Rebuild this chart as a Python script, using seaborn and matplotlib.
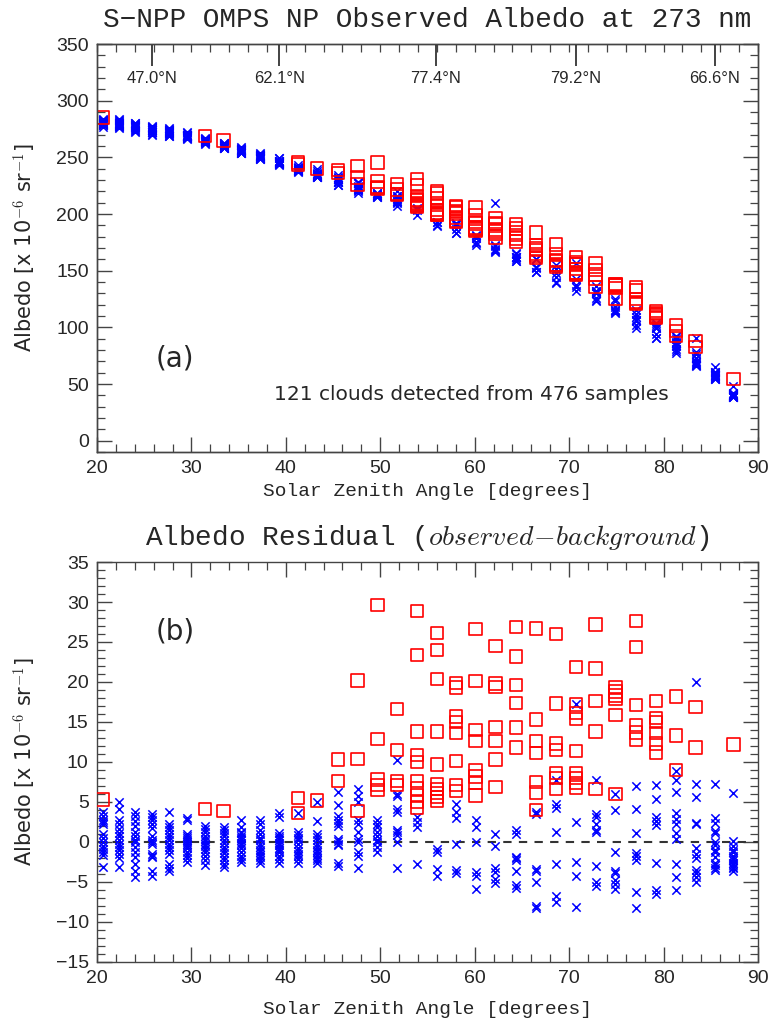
import matplotlib
matplotlib.use("Agg")
import matplotlib.pyplot as plt
import seaborn as sns
import pandas as pd
from matplotlib.ticker import MultipleLocator

sns.set_style("ticks")
plt.rcParams["font.family"] = ["DejaVu Sans"]
plt.rcParams["mathtext.fontset"] = "cm"
plt.rcParams["axes.linewidth"] = 1.0

# Solar zenith angle of each scan column (14 samples per column)
sza = [20.6, 22.3, 24.0, 25.8, 27.65, 29.5, 31.45, 33.4, 35.3, 37.3, 39.3,
       41.3, 43.3, 45.5, 47.6, 49.7, 51.8, 53.9, 56.0, 58.0, 60.1, 62.2,
       64.4, 66.5, 68.6, 70.7, 72.8, 74.9, 77.1, 79.2, 81.3, 83.4, 85.4, 87.4]

# background albedo per column [x 1e-6 sr-1]
background = [280, 279, 277, 274, 272.5, 269, 265, 261, 256, 251, 246,
              240, 235, 228.5, 222, 216, 210, 202, 194, 187, 179, 172,
              164, 157, 147, 140, 129, 119, 108, 97, 83.5, 71, 58, 42]

# residuals (observed - background) of samples flagged as cloud
cloud_resid = [
    [5.3], [], [], [], [], [], [4.1], [3.9], [], [], [],
    [5.5, 3.6], [5.2], [10.3, 7.6], [20.2, 10.4, 3.9],
    [29.6, 12.9, 7.8, 7.1, 6.5],
    [16.6, 11.5, 7.6, 7.1],
    [28.9, 23.4, 13.8, 10.9, 10.0, 7.6, 6.7, 5.8, 5.0, 4.3],
    [26.1, 24.0, 20.4, 13.8, 9.7, 7.2, 6.6, 6.1, 5.6, 5.1],
    [19.9, 19.3, 15.7, 15.0, 13.6, 10.1, 7.1, 6.4],
    [26.6, 20.1, 14.0, 12.6, 9.0, 8.2, 7.4, 5.8],
    [24.5, 19.8, 19.4, 14.4, 12.6, 10.3, 6.9],
    [26.9, 23.2, 19.6, 17.4, 14.3, 11.8],
    [26.7, 15.3, 12.6, 11.1, 7.5, 6.2, 4.0],
    [26.0, 17.3, 12.3, 11.5, 8.6, 8.0, 6.6],
    [21.9, 17.2, 16.1, 15.4, 11.4, 8.6, 8.0, 7.4, 6.8],
    [27.2, 21.7, 17.6, 13.8, 6.6],
    [19.3, 18.8, 18.3, 17.9, 15.9, 6.0],
    [27.6, 24.4, 17.1, 14.6, 13.7, 12.8],
    [17.6, 15.5, 15.0, 13.6, 12.3, 11.2],
    [18.2, 13.3, 9.0],
    [16.9, 11.8],
    [],
    [12.2],
]

# residuals of the clear samples
clear_resid = [
    [3.7, 3.3, 2.8, 2.5, 2.2, 1.0, 0.5, 0.0, -0.5, -0.9, -1.2, -1.6, -3.1],
    [5.0, 4.1, 2.8, 2.3, 1.6, 1.1, 0.7, 0.3, -0.2, -0.6, -1.0, -1.5, -2.0, -3.1],
    [3.7, 3.2, 2.6, 2.0, 1.3, 0.7, 0.3, 0.0, -0.6, -1.3, -1.9, -2.8, -3.6, -4.4],
    [3.5, 3.1, 2.8, 2.2, 1.7, 0.7, 0.3, 0.0, -0.2, -1.5, -1.7, -1.9, -3.6, -4.2],
    [3.8, 2.3, 1.9, 1.5, 1.0, 0.6, 0.2, -0.3, -0.6, -1.0, -1.5, -2.8, -3.2, -3.6],
    [3.0, 2.7, 1.0, 0.8, 0.5, 0.3, 0.0, -0.2, -0.5, -0.8, -1.2, -1.6, -2.0, -2.5],
    [2.0, 1.6, 1.2, 0.8, 0.4, 0.1, -0.2, -0.5, -0.9, -1.3, -1.8, -2.3, -2.9],
    [1.9, 1.5, 1.1, 0.7, 0.3, -0.1, -0.6, -1.0, -1.4, -1.9, -2.3, -2.7, -3.1],
    [2.8, 1.9, 1.3, 1.1, 0.8, 0.5, 0.2, -0.1, -0.4, -0.8, -1.3, -1.7, -2.1, -2.5],
    [2.7, 2.2, 1.5, 1.0, 0.5, 0.2, -0.2, -0.6, -1.0, -1.3, -1.6, -1.9, -2.3, -2.6],
    [3.6, 3.1, 1.1, 0.8, 0.5, 0.2, -0.1, -0.4, -0.7, -1.0, -1.3, -1.7, -2.1, -2.6],
    [3.6, 1.2, 0.9, 0.5, 0.2, -0.3, -0.7, -1.1, -1.5, -1.8, -2.1, -2.6],
    [5.0, 2.6, 1.0, 0.6, 0.2, -0.2, -0.6, -1.0, -1.3, -1.6, -2.0, -2.3, -2.6],
    [6.2, 4.6, 3.3, 2.8, 2.4, 2.0, 0.4, 0.1, -0.2, -0.4, -2.6, -3.0],
    [6.6, 5.7, 5.0, 2.8, 2.2, 1.3, 0.4, 0.0, -1.2, -1.8, -3.3],
    [2.8, 2.2, 1.9, 1.2, 0.7, 0.3, 0.0, -0.6, -1.2],
    [10.2, 6.0, 5.7, 4.1, 3.7, 1.5, 1.2, 0.9, 0.0, -3.2],
    [3.1, 2.5, 1.9, -2.8],
    [-0.9, -1.2, -3.4, -4.3],
    [4.7, 3.8, 3.0, -0.3, -3.5, -3.9],
    [2.8, 1.9, 0.0, -3.8, -4.3, -5.9],
    [38.0, 1.0, -0.5, -3.2, -3.8, -4.6, -5.1],
    [1.5, 1.0, -1.9, -2.0, -2.3, -3.6, -5.4, -5.8],
    [3.7, 3.5, -3.4, -3.6, -5.0, -8.0, -8.3],
    [7.7, 4.8, 4.2, 1.2, -2.8, -6.8, -7.5],
    [17.2, 2.5, -2.5, -4.2, -8.1],
    [7.8, 3.5, 3.1, 2.2, 1.5, 1.2, -3.0, -5.0, -5.5],
    [6.0, 4.0, -1.2, -3.6, -3.9, -4.8, -5.3, -5.9],
    [7.0, 4.1, 1.1, -1.4, -1.8, -2.3, -6.2, -8.3],
    [7.1, 5.4, 3.1, 2.6, 2.1, -2.6, -6.0, -6.5],
    [8.9, 7.8, 6.2, 3.6, 2.9, 2.3, 1.1, 0.4, -2.8, -4.4, -6.0],
    [20.0, 7.2, 5.6, 2.4, 2.2, -0.8, -1.5, -2.0, -3.5, -3.9, -4.4, -5.0],
    [7.3, 3.0, 2.4, 1.4, 1.1, 0.0, -0.4, -1.0, -1.3, -1.9, -2.6, -2.9, -3.2, -3.5],
    [6.1, 0.1, -0.5, -1.0, -1.3, -1.7, -2.0, -2.3, -2.6, -2.9, -3.1, -3.3, -3.6],
]

# latitude labels on the top axis of panel (a)
lat_sza = [25.8, 39.3, 55.9, 70.7, 85.4]
lat_labels = ["47.0°N", "62.1°N", "77.4°N", "79.2°N", "66.6°N"]

rows = []
for x, bg, cl, cr in zip(sza, background, cloud_resid, clear_resid):
    for r in cl:
        rows.append({"sza": x, "resid": r, "albedo": bg + r, "cloud": True})
    for r in cr:
        rows.append({"sza": x, "resid": r, "albedo": bg + r, "cloud": False})
df = pd.DataFrame(rows)
clear = df[~df["cloud"]]
cloudy = df[df["cloud"]]

mono = "Liberation Mono"
tick_font = "Liberation Sans"

fig = plt.figure(figsize=(7.71, 10.25), dpi=100)
ax1 = fig.add_axes([0.1258, 0.559, 0.8573, 0.398])
ax2 = fig.add_axes([0.1258, 0.0615, 0.8573, 0.3902])


def style_axis(ax, ymaj, ymin, top=True):
    ax.set_xlim(20, 90)
    ax.xaxis.set_major_locator(MultipleLocator(10))
    ax.xaxis.set_minor_locator(MultipleLocator(2))
    ax.yaxis.set_major_locator(MultipleLocator(ymaj))
    ax.yaxis.set_minor_locator(MultipleLocator(ymin))
    ax.tick_params(which="both", direction="in", left=True, right=True,
                   bottom=True, top=top, color="#444444")
    ax.tick_params(which="major", length=11, width=1.0, labelsize=14, pad=6)
    ax.tick_params(which="minor", length=5.5, width=0.9)
    for lab in ax.get_xticklabels() + ax.get_yticklabels():
        lab.set_fontfamily(tick_font)
    for s in ax.spines.values():
        s.set_color("#444444")


# ---- panel (a): observed albedo
sns.scatterplot(data=clear, x="sza", y="albedo", ax=ax1, marker="x",
                color="blue", s=36, linewidth=1.1, zorder=3)
sns.scatterplot(data=cloudy, x="sza", y="albedo", ax=ax1, marker="s",
                facecolor="none", edgecolor="red", s=80, linewidth=1.2, zorder=4)
ax1.set_ylim(-10, 350)
style_axis(ax1, 50, 10, top=False)
ax1.set_xlabel("Solar Zenith Angle [degrees]", fontfamily=mono, fontsize=14)
ax1.xaxis.set_label_coords(0.5, -0.075)
ax1.set_ylabel(r"Albedo [x 10$^{-6}$ sr$^{-1}$]", fontsize=15)
ax1.yaxis.set_label_coords(-0.088, 0.5)
ax1.text(0.5, 1.058, "S\u2212NPP OMPS NP Observed Albedo at 273 nm",
         transform=ax1.transAxes, ha="center", va="center",
         fontfamily=mono, fontsize=20)
ax1.text(0.118, 0.23, "(a)", transform=ax1.transAxes, ha="center",
         va="center", fontsize=20)
ax1.text(0.566, 0.14, "121 clouds detected from 476 samples",
         transform=ax1.transAxes, ha="center", va="center", fontsize=14.5)

lat_ax = ax1.twiny()
lat_ax.set_xlim(20, 90)
lat_ax.set_xticks(lat_sza)
lat_ax.set_xticklabels(lat_labels, fontfamily=tick_font, fontsize=12)
lat_ax.xaxis.set_minor_locator(MultipleLocator(2))
lat_ax.tick_params(which="major", direction="in", length=16, width=1.2,
                   pad=-30, color="#222222")
lat_ax.tick_params(which="minor", direction="in", length=5.5, width=0.9,
                   color="#444444")
for s in lat_ax.spines.values():
    s.set_color("#444444")

# ---- panel (b): residual
ax2.axhline(0, color="#333333", lw=1.5, ls=(0, (4, 3.5)), zorder=2)
sns.scatterplot(data=clear, x="sza", y="resid", ax=ax2, marker="x",
                color="blue", s=36, linewidth=1.1, zorder=3)
sns.scatterplot(data=cloudy, x="sza", y="resid", ax=ax2, marker="s",
                facecolor="none", edgecolor="red", s=80, linewidth=1.2, zorder=4)
ax2.set_ylim(-15, 35)
style_axis(ax2, 5, 1, top=True)
ax2.set_xlabel("Solar Zenith Angle [degrees]", fontfamily=mono, fontsize=14)
ax2.xaxis.set_label_coords(0.5, -0.098)
ax2.set_ylabel(r"Albedo [x 10$^{-6}$ sr$^{-1}$]", fontsize=15)
ax2.yaxis.set_label_coords(-0.088, 0.5)
ax2.text(0.5, 1.06, r"Albedo Residual ($observed\!-\!background$)",
         transform=ax2.transAxes, ha="center", va="center",
         fontfamily=mono, fontsize=20)
ax2.text(0.118, 0.825, "(b)", transform=ax2.transAxes, ha="center",
         va="center", fontsize=20)

fig.savefig("out.png", dpi=100)
